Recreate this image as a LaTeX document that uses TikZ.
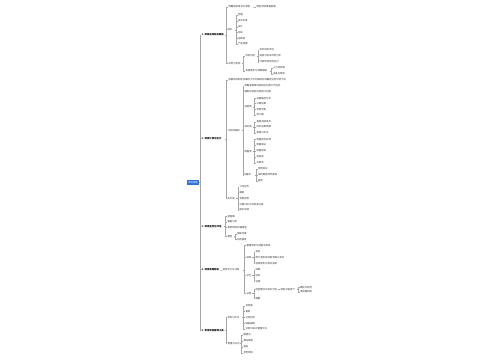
\documentclass[tikz,border=0pt]{standalone}
\usepackage{fontspec}
\newfontfamily\cjk{Noto Sans CJK SC}
\usepackage{xcolor}
\usepackage{tikz}

\definecolor{rootblue}{RGB}{46,111,216}

\begin{document}
\begin{tikzpicture}[x=1pt,y=-1pt,
    every node/.style={anchor=west,inner xsep=0.3pt,inner ysep=0.4pt,
      font=\cjk\fontsize{2.4}{2.8}\selectfont,text=black!80},
    root/.style={fill=rootblue,text=white,anchor=center,minimum width=12pt,
      minimum height=5pt,inner sep=0.3pt},
    main/.style={font=\cjk\bfseries\fontsize{2.4}{2.8}\selectfont,text=black},
    link/.style={gray!70,line width=0.35pt}]
    \useasboundingbox (0,0) rectangle (500,360);

    \node[root] (root) at (193,182.5) {项目管理};

    % main branches
    \node[main,text width=22.9pt] (s1) at (201,35) {1.~项目启动阶段概述};
    \node[main,text width=22.9pt] (s2) at (201,139) {2.~项目计划与执行};
    \node[main,text width=21.9pt] (s3) at (201,226.5) {3.~项目监控与评估};
    \node[main,text width=17.9pt] (s4) at (201,270) {4.~项目收尾验收};
    \node[main,text width=22.6pt] (s5) at (201,330.5) {5.~常用项目管理工具};
    \foreach \s in {s1,s2,s3,s4,s5}
        \draw[link] (root.east) -- ++(1,0) |- (\s.west);

    % 1
    \node[text width=23.9pt] (s1a) at (228,7) {明确项目目标与范围};
    \node (s1a1) at (256,7) {制定项目章程草案};
    \node[text width=6.9pt] (s1b) at (227,30) {团队};
    \node[text width=12.9pt] (s1c) at (228,63.5) {风险与资源};
    \foreach \c in {s1a,s1b,s1c}
        \draw[link] (s1.east) -- ++(1.5,0) |- (\c.west);
    \draw[link] (s1a.east) -- ++(1.5,0) |- (s1a1.west);
    \foreach \n/\y/\lbl in {1/15/经理,2/20.7/技术负责,3/26.7/设计,4/32.3/测试,5/38.3/运维组,6/44/产品经理} {
        \node (s1b\n) at (237.5,\y) {\lbl};
        \draw[link] (s1b.east) -- ++(1.5,0) |- (s1b\n.west);
    }
    \node[text width=10.6pt] (s1c1) at (245,56) {风险识别};
    \node[text width=23.6pt] (s1c2) at (245,71) {资源需求与预算编制};
    \foreach \c in {s1c1,s1c2}
        \draw[link] (s1c.east) -- ++(1.5,0) |- (\c.west);
    \foreach \n/\y/\lbl in {1/50/技术风险评估,2/56/进度与成本风险分析,3/62/外部环境风险应对} {
        \node (s1c1\n) at (259,\y) {\lbl};
        \draw[link] (s1c1.east) -- ++(1.5,0) |- (s1c1\n.west);
    }
    \foreach \n/\y/\lbl in {1/67.7/人力资源表,2/74/设备与物料} {
        \node (s1c2\n) at (272.5,\y) {\lbl};
        \draw[link] (s1c2.east) -- ++(1.5,0) |- (s1c2\n.west);
    }

    % 2
    \node (s2a) at (228,80) {依据目标制定详细的工作分解结构并确定任务时间节点};
    \node[text width=13.9pt] (s2b) at (227,130.5) {计划的编制};
    \node[text width=8.2pt] (s2c) at (227,198.3) {执行类};
    \foreach \c in {s2a,s2b,s2c}
        \draw[link] (s2.east) -- ++(1.5,0) |- (\c.west);
    \node (s2b1) at (244,86) {明确里程碑并按阶段分配工作任务};
    \node (s2b2) at (244,91.5) {编制甘特图与网络计划图};
    \node[text width=7.9pt] (s2b3) at (244,106.7) {进度类};
    \node[text width=7.9pt] (s2b4) at (244,127) {成本类};
    \node[text width=7.9pt] (s2b5) at (244,151.5) {质量类};
    \node[text width=10.9pt] (s2b6) at (243,175) {沟通类};
    \foreach \c in {s2b1,s2b2,s2b3,s2b4,s2b5,s2b6}
        \draw[link] (s2b.east) -- ++(1.5,0) |- (\c.west);
    \foreach \n/\y/\lbl in {1/98.3/关键路径分析,2/103.5/工期估算,3/109.3/资源平衡,4/115/赶工期} {
        \node (s2b3\n) at (256,\y) {\lbl};
        \draw[link] (s2b3.east) -- ++(1.5,0) |- (s2b3\n.west);
    }
    \foreach \n/\y/\lbl in {1/121.7/直接间接成本,2/127/成本估算预算,3/132.7/挣值分析法} {
        \node (s2b4\n) at (256,\y) {\lbl};
        \draw[link] (s2b4.east) -- ++(1.5,0) |- (s2b4\n.west);
    }
    \foreach \n/\y/\lbl in {1/139.3/质量规划标准,2/145/质量保证,3/150.7/质量控制,4/156.7/检查表,5/162.7/评审会} {
        \node (s2b5\n) at (256,\y) {\lbl};
        \draw[link] (s2b5.east) -- ++(1.5,0) |- (s2b5\n.west);
    }
    \foreach \n/\y/\lbl in {1/169/周例会议,2/175/项目报告邮件通知,3/180.7/面谈} {
        \node (s2b6\n) at (257.5,\y) {\lbl};
        \draw[link] (s2b6.east) -- ++(1.5,0) |- (s2b6\n.west);
    }
    \foreach \n/\y/\lbl in {1/186.7/分派任务,2/192.3/跟踪,3/198.3/变更控制,4/204.3/问题日志与风险登记册,5/210/团队协调} {
        \node (s2c\n) at (239,\y) {\lbl};
        \draw[link] (s2c.east) -- ++(1.5,0) |- (s2c\n.west);
    }

    % 3
    \foreach \n/\y/\lbl in {a/216.5/里程碑,b/222/偏差分析,c/227.3/趋势预测纠偏措施} {
        \node (s3\n) at (227,\y) {\lbl};
        \draw[link] (s3.east) -- ++(1.5,0) |- (s3\n.west);
    }
    \node[text width=6pt] (s3d) at (227,236.5) {报告};
    \draw[link] (s3.east) -- ++(1.5,0) |- (s3d.west);
    \foreach \n/\y/\lbl in {1/234/周报月报,2/239.5/总结报告} {
        \node (s3d\n) at (236.5,\y) {\lbl};
        \draw[link] (s3d.east) -- ++(1.5,0) |- (s3d\n.west);
    }

    % 4
    \node[text width=19.9pt] (s4a) at (222,270) {验收交付与归档};
    \draw[link] (s4.east) -- ++(1.5,0) |- (s4a.west);
    \node (s4a1) at (246,245.5) {整理项目文档提交审核};
    \node[text width=5.4pt] (s4a2) at (246,257.5) {验收};
    \node[text width=5.4pt] (s4a3) at (246,275.5) {交付};
    \node[text width=5.4pt] (s4a4) at (246,293.5) {总结};
    \foreach \c in {s4a1,s4a2,s4a3,s4a4}
        \draw[link] (s4a.east) -- ++(1.5,0) |- (\c.west);
    \foreach \n/\y/\lbl in {1/251.7/初验,2/257.5/用户验收测试签字确认移交,3/263.5/验收报告与移交清单} {
        \node (s4a2\n) at (255,\y) {\lbl};
        \draw[link] (s4a2.east) -- ++(1.5,0) |- (s4a2\n.west);
    }
    \foreach \n/\y/\lbl in {1/270/成果,2/275.5/培训,3/281.5/运维} {
        \node (s4a3\n) at (255,\y) {\lbl};
        \draw[link] (s4a3.east) -- ++(1.5,0) |- (s4a3\n.west);
    }
    \node[text width=21.6pt] (s4a4a) at (255,289.5) {经验教训与知识沉淀};
    \node (s4a4b) at (255,298.5) {解散};
    \foreach \c in {s4a4a,s4a4b}
        \draw[link] (s4a4.east) -- ++(1.5,0) |- (\c.west);
    \node[text width=15.9pt] (s4a4a1) at (280,289.5) {组织过程资产};
    \draw[link] (s4a4a.east) -- ++(1.5,0) |- (s4a4a1.west);
    \foreach \n/\y/\lbl in {1/287.5/模板与规范,2/292/项目案例库} {
        \node (s4a4a1\n) at (299.5,\y) {\lbl};
        \draw[link] (s4a4a1.east) -- ++(1.5,0) |- (s4a4a1\n.west);
    }

    % 5
    \node[text width=13.9pt] (s5a) at (227,317.5) {软件与平台};
    \node[text width=11.9pt] (s5b) at (227,343.5) {管理方法论};
    \foreach \c in {s5a,s5b}
        \draw[link] (s5.east) -- ++(1.5,0) |- (\c.west);
    \foreach \n/\y/\lbl in {1/305.7/甘特图,2/311.3/看板,3/317.3/在线协作,4/323.3/缺陷跟踪,5/329/文档与知识管理平台} {
        \node (s5a\n) at (245,\y) {\lbl};
        \draw[link] (s5a.east) -- ++(1.5,0) |- (s5a\n.west);
    }
    \foreach \n/\y/\lbl in {1/335/敏捷法,2/341/瀑布模型,3/346.7/精益,4/352.7/混合模式} {
        \node (s5b\n) at (243,\y) {\lbl};
        \draw[link] (s5b.east) -- ++(1.5,0) |- (s5b\n.west);
    }
\end{tikzpicture}
\end{document}
